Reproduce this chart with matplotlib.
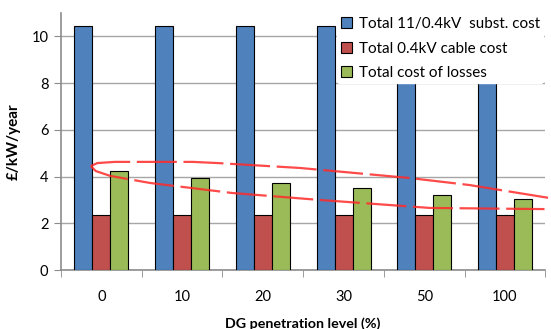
import matplotlib
matplotlib.use('Agg')
import matplotlib.pyplot as plt
import numpy as np

plt.rcParams['font.family'] = ['Lato', 'DejaVu Sans']

# DG penetration levels and the three cost components (£/kW/year)
levels = ['0', '10', '20', '30', '50', '100']
subst_cost = [10.45, 10.45, 10.45, 10.45, 10.45, 10.45]
cable_cost = [2.36, 2.36, 2.36, 2.36, 2.36, 2.36]
losses_cost = [4.24, 3.93, 3.74, 3.52, 3.23, 3.05]
series_names = ['Total 11/0.4kV  subst. cost', 'Total 0.4kV cable cost', 'Total cost of losses']

# hand-drawn loop around the losses bars
loop_upper_x = [-0.13, -0.05, 0.17, 1.13, 1.44, 2.46, 3.82, 4.56, 5.56]
loop_upper_y = [4.45, 4.58, 4.63, 4.63, 4.58, 4.37, 3.94, 3.64, 3.08]
loop_lower_x = [-0.13, -0.07, 0.11, 0.60, 1.62, 2.71, 4.07, 5.49]
loop_lower_y = [4.45, 4.24, 4.03, 3.73, 3.30, 3.00, 2.66, 2.61]

colors = ['#4F81BD', '#C0504D', '#9BBB59']

fig = plt.figure(figsize=(5.51, 3.29), dpi=100)
ax = fig.add_axes([0.1107, 0.179, 0.879, 0.7815])

x = np.arange(len(levels))
w = 0.223
for k, (vals, c, name) in enumerate(zip([subst_cost, cable_cost, losses_cost], colors, series_names)):
    ax.bar(x + (k - 1) * w, vals, w, color=c, edgecolor='black', linewidth=0.8,
           label=name, zorder=3)

ax.set_xlim(-0.5, len(levels) - 0.5)
ax.set_ylim(0, 11)
ax.set_yticks([0, 2, 4, 6, 8, 10])
ax.yaxis.grid(True, color='#a6a6a6', linewidth=1.0, zorder=0)
ax.set_axisbelow(True)

ax.set_xticks(x)
ax.set_xticklabels(levels, fontsize=10.5)
ax.set_xticks(np.arange(-0.5, len(levels)), minor=True)
ax.tick_params(axis='x', which='major', length=0, pad=14)
ax.tick_params(axis='x', which='minor', length=5, color='#8c8c8c')
ax.tick_params(axis='y', labelsize=10.5, length=5, color='#8c8c8c', pad=4)

for side in ['top', 'right']:
    ax.spines[side].set_visible(False)
for side in ['left', 'bottom']:
    ax.spines[side].set_color('#8c8c8c')
    ax.spines[side].set_linewidth(1.2)

ax.set_xlabel('DG penetration level (%)', fontsize=10.3, fontweight='bold', labelpad=10)
ax.set_ylabel('£/kW/year', fontsize=11, fontweight='bold', labelpad=8)

leg = ax.legend(loc='upper left', bbox_to_anchor=(0.612, 0.958), bbox_transform=fig.transFigure,
                frameon=True, fontsize=11, handlelength=0.75, handleheight=0.75,
                handletextpad=0.45, labelspacing=0.68, borderpad=0.22, borderaxespad=0)
leg.get_frame().set_facecolor('white')
leg.get_frame().set_edgecolor('white')
leg.get_frame().set_alpha(1)
leg.set_zorder(5)

for lx, ly in [(loop_upper_x, loop_upper_y), (loop_lower_x, loop_lower_y)]:
    ax.plot(lx, ly, color='#ff2a2a', linewidth=1.6, alpha=0.85, dashes=(18, 3),
            zorder=6, clip_on=False)

fig.savefig('out.png', dpi=100)
